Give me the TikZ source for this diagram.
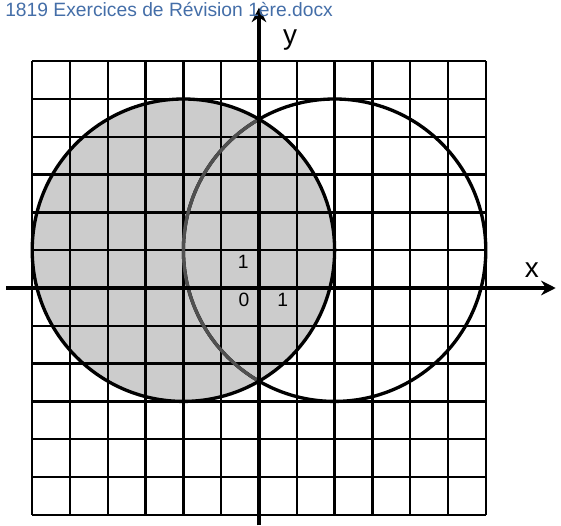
\documentclass[tikz,border=0pt]{standalone}
\usepackage{fontspec}
\setmainfont{Liberation Sans}
\usetikzlibrary{arrows.meta}
\definecolor{diskgray}{RGB}{204, 204, 204}
\definecolor{arcgray}{RGB}{80, 80, 80}
\definecolor{docblue}{RGB}{68, 110, 168}

\begin{document}
\begin{tikzpicture}[x=1cm, y=1cm]
    \useasboundingbox (-6.852,-6.296) rectangle (7.989,7.619);
    % Shaded disk
    \fill[diskgray] (-2,1) circle (4);
    % Grid
    \draw[line width=1.8pt] (-6,-6) grid (6,6);
    % Circles
    \draw[line width=2.5pt] (-2,1) circle (4);
    \draw[line width=2.5pt] (2,1) circle (4);
    \begin{scope}
        \clip (-2,1) circle (3.95);
        \draw[line width=2.5pt, arcgray] (2,1) circle (4);
    \end{scope}
    % Axes
    \coordinate (xmin) at (-6.69, 0);
    \coordinate (xmax) at (7.85, 0);
    \coordinate (ymin) at (0, -6.28);
    \coordinate (ymax) at (0, 7.42);
    \draw[-{Stealth[length=11pt, width=11pt]}, line width=3.4pt] (xmin) -- (xmax);
    \draw[-{Stealth[length=11pt, width=11pt]}, line width=3.4pt] (ymin) -- (ymax);
    \node[font=\fontsize{21}{21}\selectfont] (xlab) at (7.22, 0.48) {x};
    \node[font=\fontsize{21}{21}\selectfont] (ylab) at (0.82, 6.56) {y};
    % Unit labels
    \node[font=\fontsize{14.5}{14.5}\selectfont] (one_y) at (-0.42, 0.68) {1};
    \node[font=\fontsize{14.5}{14.5}\selectfont] (zero) at (-0.40, -0.32) {0};
    \node[font=\fontsize{14.5}{14.5}\selectfont] (one_x) at (0.63, -0.32) {1};
    % Document title
    \node[anchor=west, font=\fontsize{14.5}{14.5}\selectfont, text=docblue, inner sep=0pt] (title) at (-6.72, 7.36) {1819 Exercices de Révision 1ère.docx};
\end{tikzpicture}
\end{document}
